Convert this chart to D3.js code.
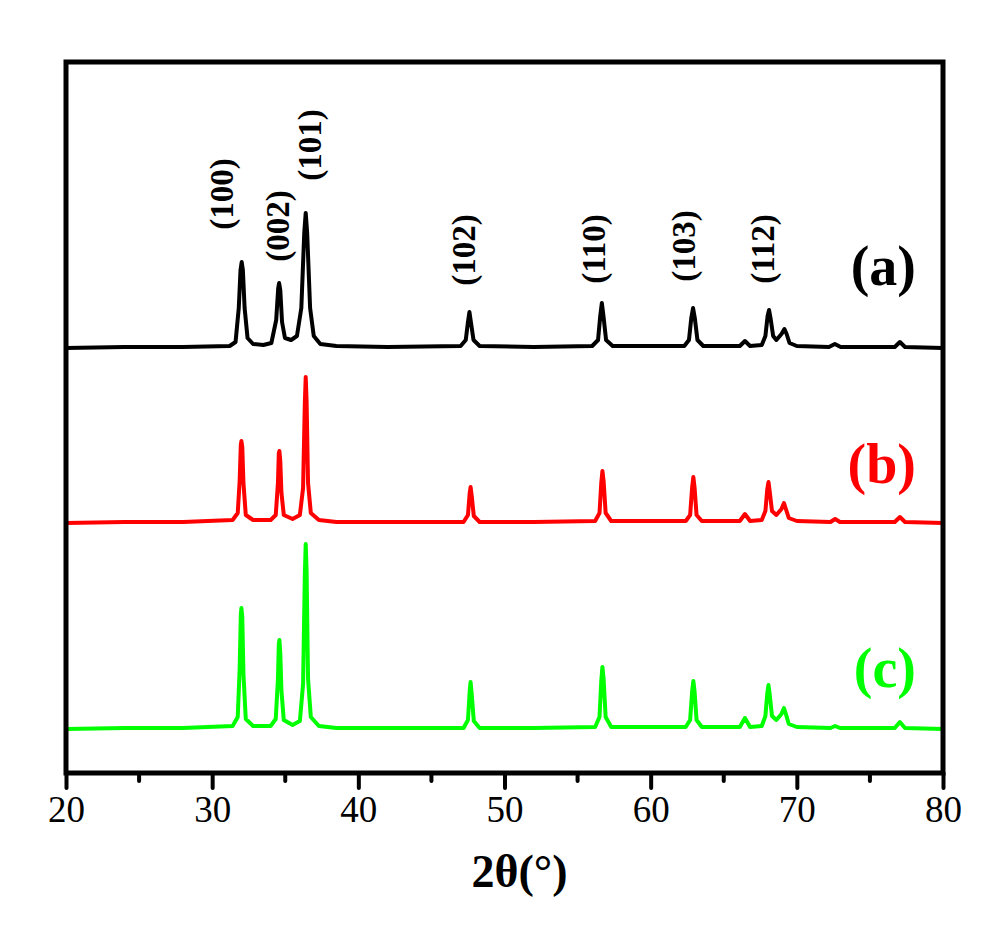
<!DOCTYPE html>
<html>
<head>
<meta charset="utf-8">
<script src="https://cdn.jsdelivr.net/npm/d3@7"></script>
<style>
  body { margin: 0; background: #fff; }
  svg text { font-family: "Liberation Serif", "Times New Roman", serif; }
</style>
</head>
<body>
<svg id="chart" width="1004" height="933"></svg>
<script>
// x ticks
var tickValues = [20, 30, 40, 50, 60, 70, 80];
var minorTicks = [25, 35, 45, 55, 65, 75];

// sample names and colours
var sampleNames = ["(a)", "(b)", "(c)"];
var sampleColors = ["#000000", "#ff0000", "#00ff00"];
// vertical offset of each trace (a.u.)
var sampleOffsets = [425, 250, 44];

// hkl annotations (placed at 2θ)
var hklNames = ["(100)", "(002)", "(101)", "(102)", "(110)", "(103)", "(112)"];
var hklAngle = [30.7, 34.5, 36.7, 47.2, 56.1, 62.3, 67.7];
var hklLift = [579, 547, 628, 523, 524, 527, 524];

// traces: [2θ, intensity above own baseline]
var traceA = [
  [20,0],[24,1],[28,1],[31.2,2],[31.6,6],[31.82,40],[31.94,78],[32.02,86],[32.1,78],[32.22,40],[32.42,10],[32.8,4],
  [33.5,3],[34.05,5],[34.38,28],[34.52,60],[34.58,65],[34.66,58],[34.78,26],[34.98,10],[35.4,8],
  [35.8,12],[36.1,40],[36.3,115],[36.4,135],[36.5,115],[36.7,40],[36.95,12],[37.4,4],[38.5,2],[42,1],
  [47.0,2],[47.35,8],[47.5,26],[47.6,36],[47.7,26],[47.88,8],[48.3,2],[52,1],
  [56.0,2],[56.4,8],[56.55,32],[56.66,45],[56.77,32],[56.95,8],[57.4,2],
  [62.3,2],[62.62,8],[62.78,30],[62.9,40],[63.02,30],[63.2,8],[63.6,2],
  [66.1,2],[66.45,7],[66.8,2],
  [67.6,3],[67.85,12],[68.0,32],[68.1,38],[68.2,30],[68.38,12],[68.6,8],[68.95,14],[69.15,19],[69.3,14],[69.5,5],[70.0,2],
  [72.2,1],[72.6,4],[73.0,1],[76.7,1],[77.05,6],[77.4,1],[80,0]
];
var traceB = [
  [20,0],[24,1],[28,1],[31.4,3],[31.75,10],[31.88,42],[31.96,78],[32.0,82],[32.06,76],[32.14,40],[32.3,8],[32.8,3],
  [34.0,3],[34.35,8],[34.5,40],[34.56,70],[34.6,72],[34.66,62],[34.74,30],[34.9,8],[35.5,4],
  [36.0,8],[36.22,35],[36.34,120],[36.4,146],[36.46,122],[36.56,40],[36.75,10],[37.3,3],[38.5,1],
  [47.2,1],[47.5,8],[47.62,30],[47.68,36],[47.75,28],[47.9,7],[48.3,1],[52,1],
  [56.2,2],[56.5,10],[56.62,40],[56.7,52],[56.78,42],[56.92,10],[57.3,2],
  [62.4,2],[62.7,8],[62.84,36],[62.92,46],[63.0,36],[63.14,8],[63.5,2],
  [66.1,2],[66.45,9],[66.8,2],
  [67.6,3],[67.85,12],[67.98,34],[68.06,41],[68.14,32],[68.3,12],[68.6,8],[68.95,14],[69.12,20],[69.25,14],[69.45,5],[70,2],
  [72.3,1],[72.62,4],[72.95,1],[76.7,1],[77.05,6],[77.4,1],[80,0]
];
var traceC = [
  [20,0],[24,1],[28,1],[31.4,3],[31.75,12],[31.88,60],[31.96,114],[32.0,121],[32.06,112],[32.14,55],[32.3,10],[32.8,3],
  [34.0,3],[34.35,10],[34.5,50],[34.56,85],[34.6,89],[34.66,76],[34.74,38],[34.9,9],[35.5,4],
  [36.0,8],[36.22,45],[36.34,155],[36.4,185],[36.46,158],[36.56,50],[36.75,12],[37.3,3],[38.5,1],
  [47.2,1],[47.5,9],[47.62,38],[47.68,47],[47.75,36],[47.9,8],[48.3,1],[52,1],
  [56.2,2],[56.5,12],[56.62,48],[56.7,62],[56.78,50],[56.92,12],[57.3,2],
  [62.4,2],[62.7,9],[62.84,38],[62.92,48],[63.0,38],[63.14,9],[63.5,2],
  [66.1,2],[66.45,11],[66.8,2],
  [67.6,3],[67.85,13],[67.98,36],[68.06,44],[68.14,35],[68.3,13],[68.6,9],[68.95,15],[69.12,21],[69.25,15],[69.45,5],[70,2],
  [72.3,1],[72.62,3],[72.95,1],[76.7,1],[77.05,7],[77.4,1],[80,0]
];
var traces = [traceA, traceB, traceC];

var svg = d3.select("#chart");
var plotL = 66, plotR = 943, plotT = 62, plotB = 773;

var x = d3.scaleLinear().domain([20, 80]).range([plotL, plotR]);
var y = d3.scaleLinear().domain([0, 711]).range([plotB, plotT]);

// traces
traces.forEach(function(tr, i) {
  var line = d3.line()
    .x(function(d) { return x(d[0]); })
    .y(function(d) { return y(d[1] + sampleOffsets[i]); });
  svg.append("path")
    .datum(tr)
    .attr("d", line)
    .attr("fill", "none")
    .attr("stroke", sampleColors[i])
    .attr("stroke-width", 4)
    .attr("stroke-linejoin", "round");
});

// frame
svg.append("rect")
  .attr("x", plotL).attr("y", plotT)
  .attr("width", plotR - plotL).attr("height", plotB - plotT)
  .attr("fill", "none").attr("stroke", "#000").attr("stroke-width", 5);

// bottom axis
var xAxis = d3.axisBottom(x).tickValues(tickValues).tickSize(15).tickPadding(8).tickFormat(d3.format("d"));
var gx = svg.append("g").attr("transform", "translate(0," + plotB + ")").call(xAxis);
gx.select(".domain").remove();
gx.selectAll(".tick line").attr("stroke", "#000").attr("stroke-width", 4).attr("stroke-linecap", "round");
gx.selectAll(".tick text")
  .attr("font-family", "Liberation Serif, Times New Roman, serif")
  .attr("font-size", 37).attr("fill", "#000");

svg.append("g").selectAll("line").data(minorTicks).enter().append("line")
  .attr("x1", function(d) { return x(d); }).attr("x2", function(d) { return x(d); })
  .attr("y1", plotB).attr("y2", plotB + 8)
  .attr("stroke", "#000").attr("stroke-width", 4).attr("stroke-linecap", "round");

// axis title
svg.append("text")
  .attr("x", (plotL + plotR) / 2 + 15).attr("y", 887)
  .attr("text-anchor", "middle")
  .attr("font-size", 46).attr("font-weight", "bold")
  .text("2θ(°)");

// hkl labels
svg.append("g").selectAll("text").data(hklNames).enter().append("text")
  .attr("transform", function(d, i) { return "translate(" + x(hklAngle[i]) + "," + y(hklLift[i]) + ") rotate(-90)"; })
  .attr("text-anchor", "middle")
  .attr("dominant-baseline", "central")
  .attr("font-size", 33).attr("font-weight", "bold")
  .text(function(d) { return d; });

// sample labels
var sampleLabelY = [285, 483, 687];
svg.append("g").selectAll("text").data(sampleNames).enter().append("text")
  .attr("x", 916)
  .attr("y", function(d, i) { return sampleLabelY[i]; })
  .attr("text-anchor", "end")
  .attr("font-size", 56).attr("font-weight", "bold")
  .attr("fill", function(d, i) { return sampleColors[i]; })
  .text(function(d) { return d; });
</script>
</body>
</html>
